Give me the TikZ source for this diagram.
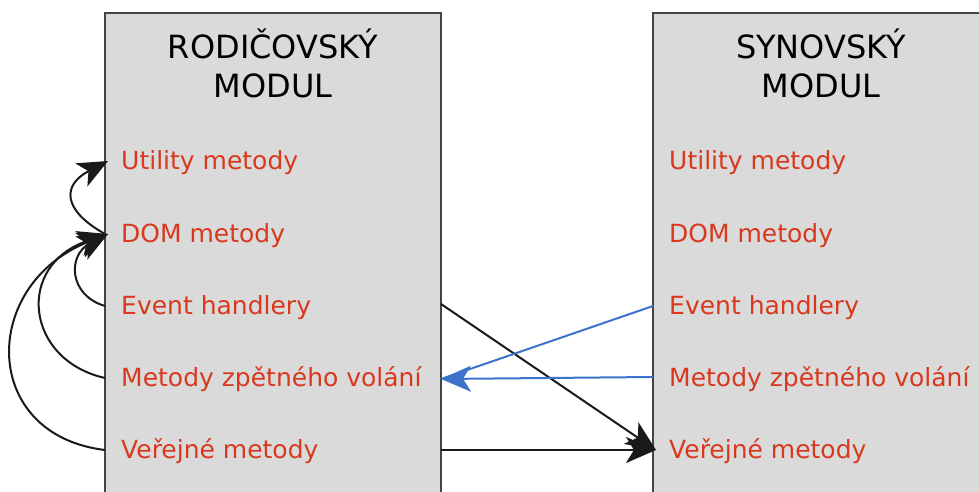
\documentclass[tikz,border=0pt]{standalone}
\usepackage{fontspec}
\setmainfont{DejaVu Sans}
\usetikzlibrary{arrows.meta}
\definecolor{boxfill}{HTML}{DADADA}
\definecolor{boxline}{HTML}{444444}
\definecolor{itemred}{HTML}{D8391E}
\definecolor{callblue}{HTML}{3C74CC}
\definecolor{inkblack}{HTML}{1A1A1A}
\tikzset{
  modbox/.style={draw=boxline, line width=1.3pt, fill=boxfill, anchor=north west,
    minimum width=336pt, minimum height=600pt, inner sep=0pt, outer sep=0pt},
  modtitle/.style={anchor=north, align=center, inner sep=0pt,
    font=\fontsize{32}{38.5}\selectfont, text=black},
  item/.style={anchor=west, inner sep=0pt, text=itemred,
    font=\fontsize{25}{30}\selectfont, text height=22pt, text depth=4.6pt},
  tipstyle/.style={-{Stealth[length=30pt 0 0,width=26pt 0 0,inset=8pt 0 0]}},
  selfcall/.style={tipstyle, draw=inkblack, line width=2pt},
  outcall/.style={tipstyle, draw=inkblack, line width=2pt},
  backcall/.style={draw=callblue, line width=2pt},
  backcalltip/.style={tipstyle, draw=callblue, line width=2pt},
}
\begin{document}
\begin{tikzpicture}[x=1pt, y=-1pt]
\useasboundingbox (0,0) rectangle (979,492);
\clip (0,0) rectangle (979,492);

% the two module boxes
\node[modbox] (L) at (105,13) {};
\node[modbox] (R) at (653,13) {};

\node[modtitle] (Lt) at (273,24.5) {\rule{0pt}{34pt}RODIČOVSKÝ\\MODUL};
\node[modtitle] (Rt) at (821,24.5) {\rule{0pt}{34pt}SYNOVSKÝ\\MODUL};

% parent module members
\node[item] (uL) at (121,161) {Utility metody};
\node[item] (dL) at (121,234) {DOM metody};
\node[item] (eL) at (121,306) {Event handlery};
\node[item] (mL) at (121,378) {Metody zpětného volání};
\node[item] (vL) at (121,450) {Veřejné metody};

% child module members
\node[item] (uR) at (669,161) {Utility metody};
\node[item] (dR) at (669,234) {DOM metody};
\node[item] (eR) at (669,306) {Event handlery};
\node[item] (mR) at (669,378) {Metody zpětného volání};
\node[item] (vR) at (669,450) {Veřejné metody};

% anchor points on the box edges
\coordinate (dLin)  at ([xshift=3pt]L.west |- dL.west);
\coordinate (uLin)  at ([xshift=3pt]L.west |- uL.west);
\coordinate (vRin)  at ([xshift=3pt]R.west |- vR.west);

% calls inside the parent module
\draw[selfcall] (L.west |- dL.west) .. controls (62,210) and (62,185) .. (uLin);
\draw[selfcall] (L.west |- eL.west) .. controls (68,295) and (68,255) .. (dLin);
\draw[selfcall] (L.west |- mL.west) .. controls (25,360) and (15,265) .. (dLin);
\draw[selfcall] (L.west |- vL.west) .. controls (-20,435) and (-20,285) .. (dLin);

% calls from parent to child
\draw[outcall] ([yshift=2pt]L.east |- eL.west) -- (vRin);
\draw[outcall] (L.east |- vL.west) -- (vRin);

% callbacks from child to parent
\draw[backcall] (R.west |- eR.west) -- ([yshift=-1pt]L.east |- mL.west);
\draw[backcalltip] ([yshift=1pt]R.west |- mR.west) -- ([yshift=-1pt]L.east |- mL.west);
\end{tikzpicture}
\end{document}
